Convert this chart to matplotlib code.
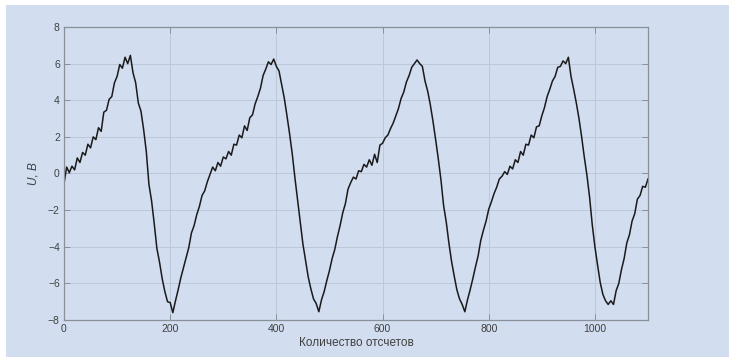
import numpy as np
import matplotlib
matplotlib.use("Agg")
import matplotlib.pyplot as plt
from matplotlib.patches import Rectangle

# signal, one value every 5 samples
step = 5
U = [-0.55, 0.35, 0.05, 0.4, 0.2, 0.85, 0.6, 1.15, 1.0, 1.6,
     1.4, 2.0, 1.85, 2.5, 2.3, 3.35, 3.45, 4.05, 4.2, 4.95,
     5.3, 5.95, 5.75, 6.35, 6.0, 6.45, 5.5, 4.95, 3.85, 3.4,
     2.4, 1.2, -0.6, -1.5, -2.75, -4.1, -4.85, -5.75, -6.45, -7.0,
     -7.05, -7.6, -6.95, -6.35, -5.7, -5.15, -4.6, -4.05, -3.25, -2.85,
     -2.25, -1.8, -1.2, -0.95, -0.45, -0.05, 0.35, 0.15, 0.6, 0.4,
     0.9, 0.8, 1.2, 1.0, 1.6, 1.55, 2.1, 1.95, 2.6, 2.35,
     3.05, 3.2, 3.8, 4.2, 4.65, 5.35, 5.7, 6.1, 5.95, 6.25,
     5.85, 5.6, 4.85, 4.1, 3.15, 2.15, 1.05, -0.25, -1.45, -2.7,
     -3.85, -4.75, -5.65, -6.3, -6.85, -7.1, -7.55, -6.9, -6.45, -5.85,
     -5.3, -4.65, -4.15, -3.45, -2.85, -2.15, -1.65, -0.85, -0.5, -0.2,
     -0.3, 0.15, 0.1, 0.5, 0.35, 0.75, 0.45, 1.05, 0.6, 1.55,
     1.65, 1.95, 2.1, 2.45, 2.75, 3.15, 3.55, 4.1, 4.45, 5.0,
     5.35, 5.8, 6.0, 6.2, 6.0, 5.85, 5.05, 4.5, 3.75, 2.85,
     1.85, 0.8, -0.35, -1.75, -2.65, -3.8, -4.8, -5.6, -6.35, -6.85,
     -7.15, -7.55, -6.9, -6.35, -5.75, -5.1, -4.5, -3.65, -3.1, -2.6,
     -1.95, -1.55, -1.1, -0.75, -0.3, -0.15, 0.1, -0.05, 0.4, 0.25,
     0.75, 0.6, 1.2, 1.0, 1.6, 1.55, 2.1, 1.95, 2.55, 2.6,
     3.15, 3.6, 4.2, 4.6, 5.05, 5.3, 5.8, 5.85, 6.15, 6.0,
     6.35, 5.3, 4.6, 3.85, 3.0, 2.0, 0.9, -0.1, -1.3, -2.8,
     -4.0, -5.0, -5.95, -6.6, -6.95, -7.15, -6.95, -7.15, -6.4, -6.0,
     -5.25, -4.65, -3.8, -3.35, -2.6, -2.2, -1.4, -1.2, -0.7, -0.75,
     -0.3]
n = np.arange(len(U)) * step

xticks = [0, 200, 400, 600, 800, 1000]
yticks = [-8, -6, -4, -2, 0, 2, 4, 6, 8]

bg = "#d2ddef"
fig = plt.figure(figsize=(7.29, 3.58), dpi=100, facecolor="white")
fig.patches.append(Rectangle((6 / 729, 1 / 358), 723 / 729, 352 / 358,
                             transform=fig.transFigure, facecolor=bg,
                             edgecolor="none", zorder=-1))
ax = fig.add_axes([64 / 729, 1 - 320 / 358, 584 / 729, 293 / 358])
ax.set_facecolor(bg)

ax.plot(n, U, color="#1a1a1a", linewidth=1.1)

ax.set_xlim(0, 1100)
ax.set_ylim(-8, 8)
ax.set_xticks(xticks)
ax.set_yticks(yticks)
ax.grid(True, color="#bcc7da", linewidth=0.7)
ax.set_axisbelow(True)
for s in ax.spines.values():
    s.set_color("#8a8f99")
    s.set_linewidth(0.9)
ax.tick_params(direction="in", length=4, width=0.7, color="#8a8f99",
               labelsize=7.5, labelcolor="#404040",
               top=True, right=True, pad=3)
for lab in ax.get_xticklabels() + ax.get_yticklabels():
    lab.set_family("Liberation Sans")

ax.set_xlabel("Количество отсчетов", fontsize=8.5, color="#404040",
              family="Liberation Sans", labelpad=2)
ax.set_ylabel("U, В", fontsize=8.5, color="#404040", family="Liberation Sans",
              style="italic", labelpad=6)

fig.savefig("out.png", dpi=100, facecolor=fig.get_facecolor())
